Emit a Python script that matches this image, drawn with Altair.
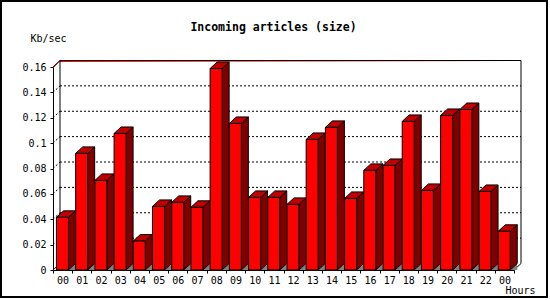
import altair as alt
import pandas as pd

# ---- data ----
hours = ["00", "01", "02", "03", "04", "05", "06", "07", "08", "09", "10", "11",
         "12", "13", "14", "15", "16", "17", "18", "19", "20", "21", "22", "00"]
kbps = [0.0415, 0.0919, 0.0706, 0.1076, 0.0228, 0.0501, 0.0533, 0.0494,
        0.1588, 0.1155, 0.0572, 0.0572, 0.0517, 0.1029, 0.1124, 0.0564,
        0.0785, 0.0824, 0.1171, 0.0627, 0.1218, 0.1265, 0.0619, 0.0305]
y_ticks = [0, 0.02, 0.04, 0.06, 0.08, 0.10, 0.12, 0.14, 0.16]
grid_vals = [0.02, 0.04, 0.06, 0.08, 0.10, 0.12, 0.14]
title_text = "Incoming articles (size)"

# ---- geometry (style) ----
W, H = 461, 203
N = len(hours)
YMAX = 0.16
PX_X = W / N          # pixels per category
PX_Y = H / YMAX       # pixels per unit value
DX = 7 / PX_X         # depth offset in x units
DY = 6.5 / PX_Y       # depth offset in y units
F0 = 0.18             # front face start within category
FW = 12 / PX_X        # front face width

FONT = "DejaVu Sans Mono"

xs = alt.Scale(domain=[0, N], nice=False, zero=False)
ys = alt.Scale(domain=[0, YMAX], nice=False, zero=True)

label_arr = "[" + ",".join("'%s'" % h for h in hours) + "]"
xaxis = alt.Axis(
    values=list(range(N + 1)), tickSize=3, tickColor="black", domainColor="black",
    labelExpr=label_arr + "[datum.value] || ''", labelOffset=PX_X / 2,
    labelPadding=2, labelFont=FONT, labelFontSize=10, labelColor="black",
    labelOverlap=False, labelFlush=False, labelBound=False, grid=False,
    title="Hours", titleFont=FONT, titleFontSize=10, titleFontWeight="normal",
    titleColor="black", titleX=452, titleY=15, titleAlign="left",
    titleBaseline="top", titleAngle=0,
)
yaxis = alt.Axis(
    values=y_ticks, format=".2~f", tickSize=3, tickColor="black", domainColor="black",
    labelPadding=4, labelFont=FONT, labelFontSize=10, labelColor="black",
    labelOverlap=False, labelFlush=False, labelBound=False, grid=False,
    title="Kb/sec", titleFont=FONT, titleFontSize=10, titleFontWeight="normal",
    titleColor="black", titleX=-23, titleY=-26, titleAlign="left",
    titleBaseline="alphabetic", titleAngle=0,
)

def X(f):
    return alt.X(f, type="quantitative", scale=xs, axis=xaxis)

def Y(f):
    return alt.Y(f, type="quantitative", scale=ys, axis=yaxis, stack=None)

# ---- tables built from the arrays ----
bars = pd.DataFrame({"i": range(N), "v": kbps})
bars["x1"] = bars["i"] + F0
bars["x2"] = bars["x1"] + FW
bars["lo"] = 0.0

side_rows, top_rows, floor_rows = [], [], []
for i, v in enumerate(kbps):
    x1 = i + F0
    x2 = x1 + FW
    side_rows += [dict(id=i, x=x2, lo=0.0, hi=v), dict(id=i, x=x2 + DX, lo=DY, hi=v + DY)]
    top_rows += [dict(id=i, y=v, xa=x1, xb=x2), dict(id=i, y=v + DY, xa=x1 + DX, xb=x2 + DX)]
    floor_rows += [dict(id=i, x=x2, lo=0.0, hi=0.0), dict(id=i, x=x2 + DX, lo=0.0, hi=DY)]
side = pd.DataFrame(side_rows)
top = pd.DataFrame(top_rows)
floor = pd.DataFrame(floor_rows)

grid = pd.DataFrame({"v": grid_vals})
grid["yb"] = grid["v"] + DY
grid["xa"] = DX
grid["xb"] = N + DX
grid["x0"] = 0.0

# back plane edges
edges = pd.DataFrame([
    dict(xa=DX, xb=DX, ya=DY, yb=YMAX + DY),            # left back edge
    dict(xa=N + DX, xb=N + DX, ya=DY, yb=YMAX + DY),    # right back edge
    dict(xa=DX, xb=N + DX, ya=YMAX + DY, yb=YMAX + DY), # top back edge
    dict(xa=0.0, xb=DX, ya=YMAX, yb=YMAX + DY),         # top-left diagonal
    dict(xa=N, xb=N + DX, ya=0.0, yb=DY),               # floor right diagonal
    dict(xa=0.0, xb=DX, ya=0.0, yb=DY),                 # floor left diagonal
])
red_edges = pd.DataFrame([
    dict(xa=DX, xb=N + DX, ya=YMAX + DY, yb=YMAX + DY),
    dict(xa=0.0, xb=DX, ya=YMAX, yb=YMAX + DY),
])

grid_layer = alt.Chart(grid).mark_rule(color="black", strokeDash=[2, 2], strokeWidth=1).encode(
    x=X("xa"), x2="xb", y=Y("yb"))
grid_diag = alt.Chart(grid).mark_rule(color="black", strokeDash=[2, 2], strokeWidth=1).encode(
    x=X("x0"), x2="xa", y=Y("v"), y2="yb")
red_layer = alt.Chart(red_edges).mark_rule(color="#FF0000", strokeWidth=1, yOffset=1).encode(
    x=X("xa"), x2="xb", y=Y("ya"), y2="yb")
edge_layer = alt.Chart(edges).mark_rule(color="black", strokeWidth=1).encode(
    x=X("xa"), x2="xb", y=Y("ya"), y2="yb")

floor_layer = alt.Chart(floor).mark_area(orient="vertical", color="#808080").encode(
    x=X("x"), y=Y("lo"), y2="hi", detail="id:N")
side_layer = alt.Chart(side).mark_area(
    orient="vertical", color="#800000", stroke="black", strokeWidth=1).encode(
    x=X("x"), y=Y("lo"), y2="hi", detail="id:N")
top_layer = alt.Chart(top).mark_area(
    orient="horizontal", color="#C00000", stroke="black", strokeWidth=1).encode(
    y=Y("y"), x=alt.X("xa", type="quantitative", scale=xs, axis=xaxis, stack=None),
    x2="xb", detail="id:N")
front_layer = alt.Chart(bars).mark_rect(color="#FF0000", stroke="black", strokeWidth=1).encode(
    x=X("x1"), x2="x2", y=Y("lo"), y2="v")

one = pd.DataFrame({"t": [title_text]})
frame = alt.Chart(one).mark_rect(
    fill="white", fillOpacity=0, stroke="black", strokeWidth=2).encode(
    x=alt.value(-52), x2=alt.value(494), y=alt.value(-66), y2=alt.value(230))
title_layer = alt.Chart(one).mark_text(
    font=FONT, fontSize=11.5, fontWeight="bold", color="black",
    align="center", baseline="alphabetic").encode(
    text="t:N", x=alt.value(220.5), y=alt.value(-36))

chart = alt.layer(
    frame, title_layer, grid_layer, grid_diag, red_layer, edge_layer,
    floor_layer, side_layer, top_layer, front_layer,
).properties(
    width=W, height=H,
    autosize=alt.AutoSizeParams(type="none"),
    padding={"left": 53, "top": 67, "right": 36, "bottom": 30},
    background="white",
).configure_view(stroke=None)

chart.save("out.html", embed_options={"renderer": "svg", "actions": False})
